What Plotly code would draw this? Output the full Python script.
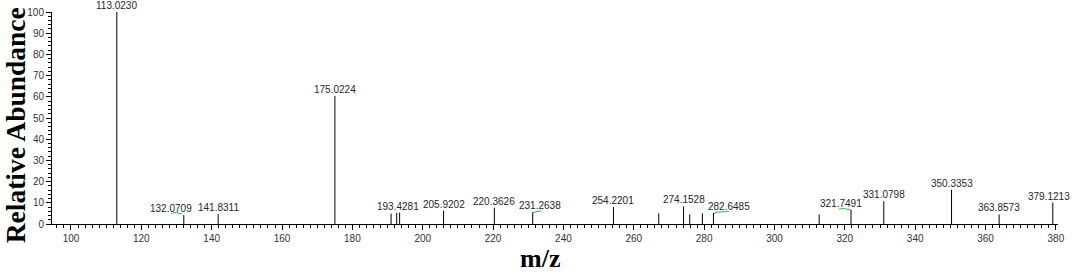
import plotly.graph_objects as go

# Peak data (m/z, relative abundance %)
mz = [113.0230, 132.0709, 141.8311, 175.0224, 191.0, 192.6, 193.4281, 205.9202,
      220.3626, 231.2638, 254.2201, 267.1, 274.1528, 275.9, 279.5, 282.6485,
      312.7, 321.7491, 331.0798, 350.3353, 363.8573, 379.1213]
abundance = [100, 4.2, 4.7, 60.4, 4.9, 5.3, 5.4, 6.3,
             7.7, 5.5, 8.0, 5.0, 8.3, 4.5, 5.0, 5.2,
             4.5, 6.7, 10.7, 16.2, 4.5, 9.9]
labeled = [True, True, True, True, False, False, True, True,
           True, True, True, False, True, False, False, True,
           False, True, True, True, True, True]
# horizontal label offsets (px) as in the source software's label placement
label_shift = [0, -13, 0, 0, 0, 0, -2, 0, 0, 7, 0, 0, 0, 0, 0, 16, 0, -10, 0, 0, 0, -4]

# small green label connector marks
green_x = [[128.6, 129.6, 131.5], [231.3, 232.2, 233.8], [282.7, 283.6, 287.0],
           [318.3, 319.5, 321.6], [378.8, 379.1]]
green_y = [[5.1, 5.4, 4.8], [5.3, 5.8, 6.1], [4.9, 5.6, 5.9],
           [7.0, 7.3, 6.7], [10.3, 9.9]]

x_ticks = [100, 120, 140, 160, 180, 200, 220, 240, 260, 280, 300, 320, 340, 360, 380]
y_ticks = [0, 10, 20, 30, 40, 50, 60, 70, 80, 90, 100]

xs, ys = [], []
for m, a in zip(mz, abundance):
    xs += [m, m, None]
    ys += [0, a, None]

fig = go.Figure()
for gx, gy in zip(green_x, green_y):
    fig.add_trace(go.Scatter(x=gx, y=gy, mode="lines",
                             line=dict(color="#22c04a", width=1),
                             hoverinfo="skip", showlegend=False))
fig.add_trace(go.Scatter(x=xs, y=ys, mode="lines",
                         line=dict(color="black", width=1),
                         showlegend=False, hoverinfo="skip"))

for m, a, lab, sh in zip(mz, abundance, labeled, label_shift):
    if lab:
        fig.add_annotation(x=m, y=a, text=f"{m:.4f}", showarrow=False,
                           yanchor="bottom", xanchor="center", yshift=0, xshift=sh,
                           borderpad=0,
                           font=dict(family="Liberation Sans, Arial", size=10, color="#262626"))

fig.add_annotation(xref="paper", yref="paper", x=0.485, y=-0.165, text="m/z",
                   showarrow=False, yanchor="middle", xanchor="center",
                   font=dict(family="Liberation Serif, Times New Roman", size=26,
                             color="black", weight="bold"))
fig.add_annotation(xref="paper", yref="paper", x=-0.0355, y=0.467, text="Relative Abundance",
                   showarrow=False, textangle=-90, yanchor="middle", xanchor="center",
                   font=dict(family="Liberation Serif, Times New Roman", size=27.5,
                             color="black", weight="bold"))

fig.update_layout(
    width=1072, height=273,
    margin=dict(l=52, r=14, t=12, b=49, autoexpand=False),
    paper_bgcolor="white", plot_bgcolor="white",
    font=dict(family="Liberation Sans, Arial", size=10, color="#333333"),
    xaxis=dict(range=[94.6, 380.6], tickvals=x_ticks, ticks="outside", ticklen=5,
               tickcolor="black", showline=True, linecolor="black", linewidth=1,
               showgrid=False, zeroline=False, automargin=False,
               minor=dict(dtick=2, tick0=100, ticks="outside", ticklen=3, tickcolor="black"),
               tickfont=dict(size=10, color="#333333")),
    yaxis=dict(range=[0, 100], tickvals=y_ticks, ticks="outside", ticklen=5,
               tickcolor="black", showline=True, linecolor="black", linewidth=1,
               showgrid=False, zeroline=False, automargin=False,
               minor=dict(dtick=2, tick0=0, ticks="outside", ticklen=3, tickcolor="black"),
               tickfont=dict(size=10, color="#333333")),
)

fig.write_html("out.html", config={"displayModeBar": False},
               post_script="document.body.style.margin='0';")
